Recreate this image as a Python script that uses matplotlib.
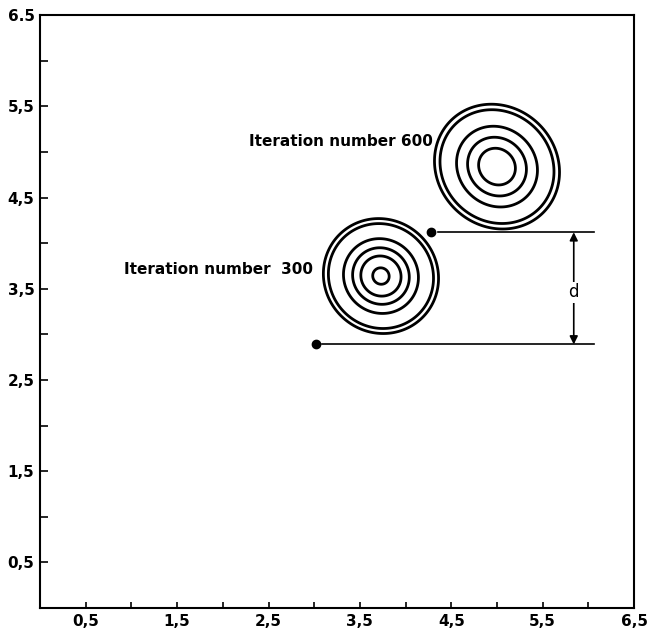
import numpy as np
import matplotlib.pyplot as plt

# tick labels
tick_vals = [0.5, 1.5, 2.5, 3.5, 4.5, 5.5, 6.5]
x_tick_labels = ["0,5", "1,5", "2,5", "3,5", "4,5", "5,5", "6,5"]
y_tick_labels = ["0,5", "1,5", "2,5", "3,5", "4,5", "5,5", "6.5"]
minor_vals = [1, 2, 3, 4, 5, 6]

# contour blobs: centre, contour radii, elongation along the NW-SE diagonal
iterations = [300, 600]
centres = [(3.73, 3.64), (5.00, 4.84)]
radii_300 = [0.09, 0.22, 0.31, 0.41, 0.575, 0.63]
radii_600 = [0.20, 0.32, 0.44, 0.62, 0.68]
stretch = [(1.02, 0.98), (1.05, 0.96)]

# markers, reference lines and the distance d
dots_x = [3.02, 4.28]
dots_y = [2.89, 4.12]
line_end_x = 6.06
arrow_x = 5.84
label_pos = [(2.99, 3.71), (4.30, 5.11)]

fig = plt.figure(figsize=(6.47, 6.34), dpi=100)
ax = fig.add_axes([0.062, 0.041, 0.918, 0.935])
ax.set_xlim(0, 6.5)
ax.set_ylim(0, 6.5)

xx, yy = np.meshgrid(np.linspace(2.5, 6.2, 500), np.linspace(2.5, 6.2, 500))
th = np.deg2rad(-45)
for (cx, cy), levels, (a, b) in zip(centres, [radii_300, radii_600], stretch):
    dx, dy = xx - cx, yy - cy
    u = dx * np.cos(th) + dy * np.sin(th)
    v = -dx * np.sin(th) + dy * np.cos(th)
    r = np.sqrt((u / a) ** 2 + (v / b) ** 2)
    ax.contour(xx, yy, r, levels=levels, colors="black", linewidths=2.0)

for n, (tx, ty) in zip(iterations, label_pos):
    sep = "  " if n == 300 else " "
    ax.text(tx, ty, f"Iteration number{sep}{n}", ha="right", va="center",
            fontsize=11, fontweight="bold")

ax.plot(dots_x, dots_y, "o", color="black", ms=6)
for x0, y0 in zip(dots_x, dots_y):
    ax.plot([x0 + 0.07, line_end_x], [y0, y0], color="black", lw=1.2)

ax.annotate("", xy=(arrow_x, dots_y[1]), xytext=(arrow_x, dots_y[0]),
            arrowprops=dict(arrowstyle="<|-|>", color="black", lw=1.2,
                            mutation_scale=12, shrinkA=0, shrinkB=0))
ax.text(arrow_x, 3.46, "d", ha="center", va="center", fontsize=12,
        bbox=dict(facecolor="white", edgecolor="none", pad=1))

ax.set_xticks(tick_vals)
ax.set_xticklabels(x_tick_labels)
ax.set_yticks(tick_vals)
ax.set_yticklabels(y_tick_labels)
ax.set_xticks(minor_vals, minor=True)
ax.set_yticks(minor_vals, minor=True)
ax.tick_params(which="both", direction="in", length=6, width=1.2,
               top=False, right=False, labelsize=11, pad=4)
ax.tick_params(axis="x", which="both", length=4)
for lab in ax.get_xticklabels() + ax.get_yticklabels():
    lab.set_fontweight("bold")
for s in ax.spines.values():
    s.set_linewidth(1.5)

fig.savefig("out.png", dpi=100)
